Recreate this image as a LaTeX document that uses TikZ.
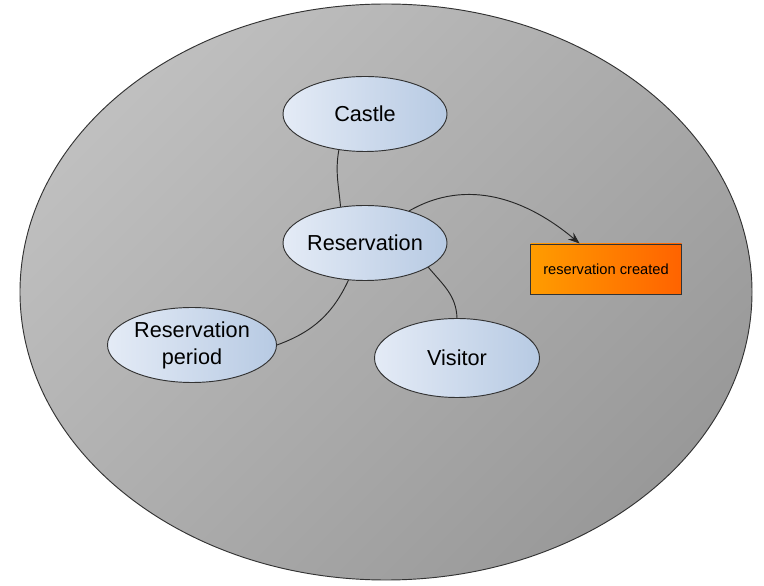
\documentclass[tikz,border=0pt]{standalone}
\usepackage{fontspec}
\setmainfont{Liberation Sans}
\usetikzlibrary{shapes.geometric,arrows.meta}
\definecolor{bubblelight}{HTML}{E4EBF6}
\definecolor{bubbledark}{HTML}{B7CAE3}
\definecolor{eventlight}{HTML}{FF9C00}
\definecolor{eventdark}{HTML}{FF6300}
\begin{document}
\begin{tikzpicture}[
  bubble/.style={ellipse, draw=black!80, thick, inner sep=0pt,
    left color=bubblelight, right color=bubbledark,
    font=\fontsize{18.5}{23}\selectfont, align=center},
  event/.style={rectangle, draw=black!80, thick, inner sep=0pt,
    minimum width=4.53cm, minimum height=1.5cm,
    left color=eventlight, right color=eventdark,
    font=\fontsize{12.5}{15}\selectfont},
  link/.style={draw=black!85, thick}
]
\useasboundingbox (0,0) rectangle (22.92,17.55);
% context area
\draw[draw=black!80, thick, top color=black!25, bottom color=black!40,
  shading angle=45]
  (11.58,8.79) ellipse [x radius=10.98, y radius=8.64];
% entities
\node[bubble, minimum width=4.92cm, minimum height=2.25cm] (castle) at (10.95,14.13) {Castle};
\node[bubble, minimum width=4.92cm, minimum height=2.25cm] (reservation) at (10.95,10.26) {Reservation};
\node[bubble, minimum width=5.07cm, minimum height=2.25cm] (period) at (5.76,7.2) {Reservation\\period};
\node[bubble, minimum width=4.95cm, minimum height=2.37cm] (visitor) at (13.71,6.81) {Visitor};
% event
\node[event] (created) at (18.18,9.48) {reservation created};
% relations
\draw[link] (castle.234) to[out=-100, in=95] (reservation.124);
\draw[link] (reservation.246) to[out=-115, in=20] (period.east);
\draw[link] (reservation.-21) to[out=-50, in=92] (visitor.north);
\draw[link, -{Stealth[length=3.5mm, width=2.6mm]}] (reservation.36) to[out=30, in=140] (created.136);
\end{tikzpicture}
\end{document}
